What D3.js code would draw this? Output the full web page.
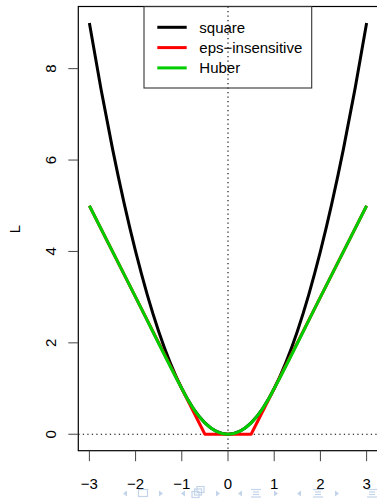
<!DOCTYPE html>
<html lang="en">
<head>
<meta charset="utf-8" />
<title>Loss functions</title>
<style>
  * { margin: 0; padding: 0; }
  body { background: white; width: 377px; height: 499px; overflow: hidden; }
  svg { display: block; font-family: "Liberation Sans", Arial, sans-serif; }
  .tick-label { font-size: 15px; fill: black; }
  .legend text { font-size: 15px; }
  .curve { fill: none; stroke-width: 3px; stroke-linejoin: round; stroke-linecap: butt; }
  .nav { fill: none; stroke: #c3d4ea; stroke-width: 1.2px; }
</style>
</head>
<body>
<script src="https://d3js.org/d3.v7.min.js"></script>
<div id="chart"></div>
<script>

  // curves
  var sqX = [-3, -2.75, -2.5, -2.25, -2, -1.75, -1.5, -1.25, -1, -0.75, -0.5, -0.25, 0,
             0.25, 0.5, 0.75, 1, 1.25, 1.5, 1.75, 2, 2.25, 2.5, 2.75, 3];
  var sqY = [9, 7.5625, 6.25, 5.0625, 4, 3.0625, 2.25, 1.5625, 1, 0.5625, 0.25, 0.0625, 0,
             0.0625, 0.25, 0.5625, 1, 1.5625, 2.25, 3.0625, 4, 5.0625, 6.25, 7.5625, 9];

  var epsX = [-3, -0.5, 0.5, 3];
  var epsY = [5, 0, 0, 5];

  var hubX = [-3, -2, -1, -0.875, -0.75, -0.625, -0.5, -0.375, -0.25, -0.125, 0,
              0.125, 0.25, 0.375, 0.5, 0.625, 0.75, 0.875, 1, 2, 3];
  var hubY = [5, 3, 1, 0.765625, 0.5625, 0.390625, 0.25, 0.140625, 0.0625, 0.015625, 0,
              0.015625, 0.0625, 0.140625, 0.25, 0.390625, 0.5625, 0.765625, 1, 3, 5];

  var xTicks = [-3, -2, -1, 0, 1, 2, 3];
  var yTicks = [0, 2, 4, 6, 8];
  var legendNames = ["square", "eps\u2212insensitive", "Huber"];
  var legendColors = ["black", "#ff0000", "#00cd00"];

  var W = 377, H = 499;
  var pL = 78.3, pR = 377.7, pT = 6.5, pB = 450.7;

  var svg = d3.select("#chart").append("svg")
      .attr("width", W)
      .attr("height", H);

  // R style 4% padding on each side
  var x = d3.scaleLinear().domain([-3.24, 3.24]).range([pL, pR]);
  var y = d3.scaleLinear().domain([-0.36, 9.36]).range([pB, pT]);

  // dotted reference lines at 0
  svg.append("line")
      .attr("x1", pL).attr("x2", pR)
      .attr("y1", y(0)).attr("y2", y(0))
      .attr("stroke", "black").attr("stroke-width", 1.1)
      .attr("stroke-dasharray", "1.3,3.2");
  svg.append("line")
      .attr("x1", x(0)).attr("x2", x(0))
      .attr("y1", pT).attr("y2", pB)
      .attr("stroke", "black").attr("stroke-width", 1.1)
      .attr("stroke-dasharray", "1.3,3.2");

  var line = d3.line()
      .x(function(d) { return x(d[0]); })
      .y(function(d) { return y(d[1]); });

  var smooth = d3.line()
      .x(function(d) { return x(d[0]); })
      .y(function(d) { return y(d[1]); })
      .curve(d3.curveMonotoneX);

  svg.append("path")
      .datum(d3.zip(sqX, sqY))
      .attr("class", "curve")
      .attr("stroke", legendColors[0])
      .attr("d", smooth);

  svg.append("path")
      .datum(d3.zip(epsX, epsY))
      .attr("class", "curve")
      .attr("stroke", legendColors[1])
      .attr("d", line);

  svg.append("path")
      .datum(d3.zip(hubX, hubY))
      .attr("class", "curve")
      .attr("stroke", legendColors[2])
      .attr("d", smooth);

  // plot box
  svg.append("rect")
      .attr("x", pL).attr("y", pT)
      .attr("width", pR - pL).attr("height", pB - pT)
      .attr("fill", "none").attr("stroke", "black").attr("stroke-width", 1.2);

  // x axis
  var xAxis = svg.append("g").attr("transform", "translate(0," + pB + ")");
  xAxis.selectAll("line.tk").data(xTicks).enter().append("line")
      .attr("x1", function(d) { return x(d); }).attr("x2", function(d) { return x(d); })
      .attr("y1", 0).attr("y2", 10.5)
      .attr("stroke", "#444").attr("stroke-width", 1);
  xAxis.selectAll("text").data(xTicks).enter().append("text")
      .attr("class", "tick-label")
      .attr("x", function(d) { return x(d); })
      .attr("y", 38)
      .attr("text-anchor", "middle")
      .text(function(d) { return d < 0 ? "\u2212" + Math.abs(d) : d; });

  // y axis
  var yAxis = svg.append("g").attr("transform", "translate(" + pL + ",0)");
  yAxis.selectAll("line.tk").data(yTicks).enter().append("line")
      .attr("x1", 0).attr("x2", -10)
      .attr("y1", function(d) { return y(d); }).attr("y2", function(d) { return y(d); })
      .attr("stroke", "#444").attr("stroke-width", 1);
  yAxis.selectAll("text").data(yTicks).enter().append("text")
      .attr("class", "tick-label")
      .attr("transform", function(d) { return "translate(-22," + y(d) + ") rotate(-90)"; })
      .attr("text-anchor", "middle")
      .text(function(d) { return d; });

  svg.append("text")
      .attr("class", "tick-label")
      .attr("transform", "translate(20," + 229 + ") rotate(-90)")
      .attr("text-anchor", "middle")
      .text("L");

  // legend
  var lg = svg.append("g").attr("class", "legend");
  lg.append("rect")
      .attr("x", 144).attr("y", pT)
      .attr("width", 167.7).attr("height", 81.5)
      .attr("fill", "none").attr("stroke", "#333").attr("stroke-width", 1.1);
  legendNames.forEach(function(name, i) {
    var yy = 27.3 + i * 20.3;
    lg.append("line")
        .attr("x1", 157.3).attr("x2", 186.7)
        .attr("y1", yy).attr("y2", yy)
        .attr("stroke", legendColors[i]).attr("stroke-width", 3);
    lg.append("text")
        .attr("x", 199.3).attr("y", yy + 5.3)
        .text(name);
  });

  // beamer navigation symbols at the bottom
  var nav = svg.append("g").attr("class", "nav");
  var cy = 493.5;
  function triL(cx) {
    nav.append("path").attr("d", "M" + (cx + 2) + "," + (cy - 3) + "L" + (cx - 2) + "," + cy + "L" + (cx + 2) + "," + (cy + 3) + "Z")
        .style("fill", "#c3d4ea").style("stroke", "none");
  }
  function triR(cx) {
    nav.append("path").attr("d", "M" + (cx - 2) + "," + (cy - 3) + "L" + (cx + 2) + "," + cy + "L" + (cx - 2) + "," + (cy + 3) + "Z")
        .style("fill", "#c3d4ea").style("stroke", "none");
  }
  function lines(cx) {
    [-4, -1.5, 1, 3.5].forEach(function(o, k) {
      var w = (k === 1 || k === 2) ? 3 : 5;
      nav.append("line").attr("x1", cx - w).attr("x2", cx + w).attr("y1", cy + o).attr("y2", cy + o);
    });
  }
  triL(125); nav.append("rect").attr("x", 138.5).attr("y", cy - 4).attr("width", 9).attr("height", 7); triR(161);
  triL(183);
  nav.append("rect").attr("x", 192).attr("y", cy - 2).attr("width", 7).attr("height", 6);
  nav.append("rect").attr("x", 194.5).attr("y", cy - 4.5).attr("width", 7).attr("height", 6);
  nav.append("rect").attr("x", 197).attr("y", cy - 7).attr("width", 7).attr("height", 6);
  triR(218);
  triL(240); lines(256); triR(276);
  triL(299); lines(318); triR(337);
  lines(372);

</script>
</body>
</html>
